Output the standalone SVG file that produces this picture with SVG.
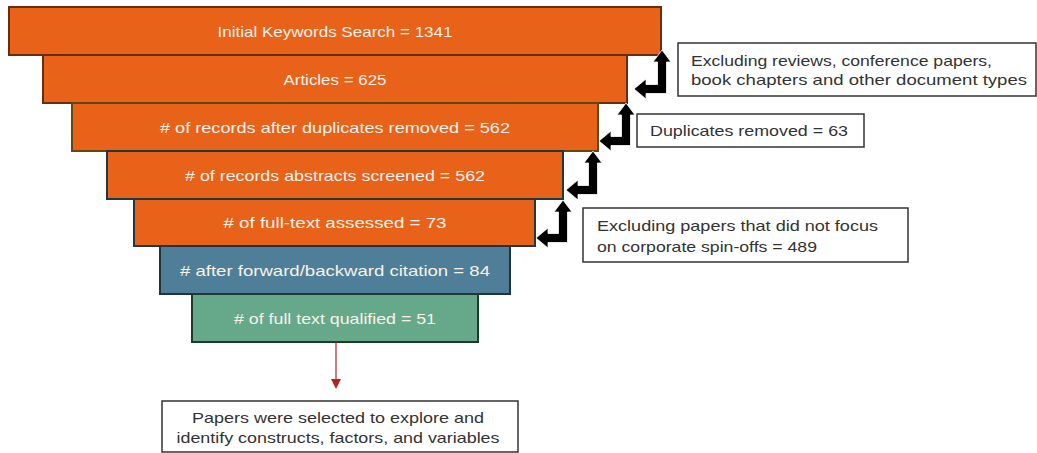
<svg xmlns="http://www.w3.org/2000/svg" width="1037" height="453" viewBox="0 0 1037 453">
<style>
.stage{stroke-width:2}
.orange{fill:#E8621A}
.blue{fill:#4F7F98;stroke:#1E3440}
.green{fill:#66A98A;stroke:#1C3A2E}
.lbl{font-family:"Liberation Sans",Arial,sans-serif;font-size:14.5px;fill:#F7F1EA;text-anchor:middle;dominant-baseline:central}
.note{fill:#FFFFFF;stroke:#333333;stroke-width:1.5}
.ntxt{font-family:"Liberation Sans",Arial,sans-serif;font-size:14.5px;fill:#333333}
.elbow{fill:#000000;stroke:#FFFFFF;stroke-width:0.8}
</style>
<defs>
<marker id="redHead" markerWidth="10" markerHeight="10" refX="5" refY="5" orient="auto" markerUnits="userSpaceOnUse">
<path d="M0,0 L10,5 L0,10 Z" fill="#B22222"/>
</marker>
</defs>
<rect width="1037" height="453" fill="#FFFFFF"/>

<g id="n1"><rect class="stage orange" x="9" y="7" width="652" height="48" stroke="#6B2C0E"/><text class="lbl" x="335" y="32" textLength="235" lengthAdjust="spacingAndGlyphs">Initial Keywords Search = 1341</text></g>
<g id="n2"><rect class="stage orange" x="43" y="55" width="584" height="48" stroke="#6B2C0E"/><text class="lbl" x="335" y="80" textLength="103" lengthAdjust="spacingAndGlyphs">Articles = 625</text></g>
<g id="n3"><rect class="stage orange" x="72" y="103" width="526" height="48" stroke="#5E4A12"/><text class="lbl" x="335" y="128" textLength="350" lengthAdjust="spacingAndGlyphs"># of records after duplicates removed = 562</text></g>
<g id="n4"><rect class="stage orange" x="107" y="151" width="456" height="48" stroke="#1E3A40"/><text class="lbl" x="335" y="176" textLength="300" lengthAdjust="spacingAndGlyphs"># of records abstracts screened = 562</text></g>
<g id="n5"><rect class="stage orange" x="134" y="199" width="401" height="47" stroke="#1E3A40"/><text class="lbl" x="335" y="223" textLength="223" lengthAdjust="spacingAndGlyphs"># of full-text assessed = 73</text></g>
<g id="n6"><rect class="stage blue" x="160" y="246" width="350" height="48"/><text class="lbl" x="335" y="271" textLength="310" lengthAdjust="spacingAndGlyphs"># after forward/backward citation = 84</text></g>
<g id="n7"><rect class="stage green" x="192" y="294" width="286" height="48"/><text class="lbl" x="335" y="319" textLength="202" lengthAdjust="spacingAndGlyphs"># of full text qualified = 51</text></g>

<g id="noteA"><rect class="note" x="678" y="43" width="358" height="53"/>
<text class="ntxt" x="691" y="66" textLength="301" lengthAdjust="spacingAndGlyphs">Excluding reviews, conference papers,</text>
<text class="ntxt" x="691" y="85" textLength="336" lengthAdjust="spacingAndGlyphs">book chapters and other document types</text></g>
<g id="noteB"><rect class="note" x="637" y="114" width="227" height="33"/>
<text class="ntxt" x="650" y="136" textLength="198" lengthAdjust="spacingAndGlyphs">Duplicates removed = 63</text></g>
<g id="noteC"><rect class="note" x="583" y="208" width="325" height="54"/>
<text class="ntxt" x="597" y="231" textLength="281" lengthAdjust="spacingAndGlyphs">Excluding papers that did not focus</text>
<text class="ntxt" x="597" y="252" textLength="220" lengthAdjust="spacingAndGlyphs">on corporate spin-offs = 489</text></g>
<g id="result"><rect class="note" x="162" y="401" width="356" height="51"/>
<text class="ntxt" x="338" y="423" text-anchor="middle" textLength="292" lengthAdjust="spacingAndGlyphs">Papers were selected to explore and</text>
<text class="ntxt" x="338" y="443" text-anchor="middle" textLength="323" lengthAdjust="spacingAndGlyphs">identify constructs, factors, and variables</text></g>

<g id="connectors">
<polygon class="elbow" points="662,50 671,62 666.5,62 666.5,93.5 646,93.5 646,99 634,89 646,79 646,84.5 657.5,84.5 657.5,62 653,62"/>
<polygon class="elbow" points="626,103 635,115 630.5,115 630.5,145.5 611,145.5 611,151 599,141 611,131 611,136.5 621.5,136.5 621.5,115 617,115"/>
<polygon class="elbow" points="593,151 602,163 597.5,163 597.5,194.5 578,194.5 578,200 566,190 578,180 578,185.5 588.5,185.5 588.5,163 584,163"/>
<polygon class="elbow" points="563,200 572,212 567.5,212 567.5,242.5 548,242.5 548,248 536,238 548,228 548,233.5 558.5,233.5 558.5,212 554,212"/>
<line x1="336" y1="342" x2="336" y2="384" stroke="#B22222" stroke-width="1.2" marker-end="url(#redHead)"/>
</g>
</svg>
